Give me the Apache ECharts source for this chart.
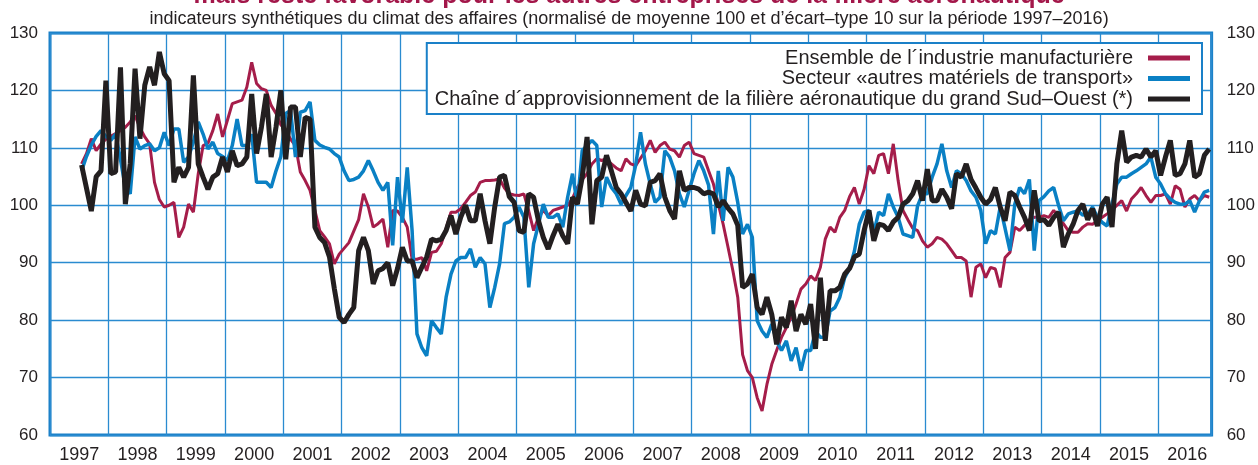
<!DOCTYPE html>
<html lang="fr">
<head>
<meta charset="utf-8">
<title>Climat des affaires</title>
<script src="https://cdn.jsdelivr.net/npm/echarts@6/dist/echarts.min.js"></script>
<style>
  html, body { margin: 0; padding: 0; background: #fff; }
  #chart { width: 1258px; height: 465px; }
</style>
</head>
<body>
<div id="chart"></div>
<script>
// Months are counted from January 1997; the series start in July 1997 and end in November 2016.
const FIRST_MONTH = 6;
const AXIS_MONTHS = 239;

const years = ['1997', '1998', '1999', '2000', '2001', '2002', '2003', '2004', '2005', '2006',
  '2007', '2008', '2009', '2010', '2011', '2012', '2013', '2014', '2015', '2016'];

const yTicks = [60, 70, 80, 90, 100, 110, 120, 130];

const seriesNames = [
  'Ensemble de l´industrie manufacturière',
  'Secteur «autres matériels de transport»',
  'Chaîne d´approvisionnement de la filière aéronautique du grand Sud–Ouest (*)'
];

// Ensemble de l'industrie manufacturière
const manufacturing = [
  107.2, 109, 111.6, 109.5, 110.7, 111.5,
  112, 112.5, 113, 113.6, 114.5, 115.6, 113.5, 111.9, 110.7, 104, 101, 99.7,
  100, 100.5, 94.4, 96.2, 100.2, 98.8, 105.5, 110.4, 110.8, 113, 115.9, 111.9,
  114.8, 117.7, 118, 118.3, 120.6, 124.9, 121.2, 120.3, 120, 117.4, 116, 114,
  113, 111.5, 110.4, 105.8, 104.3, 102.6, 99.1, 95.6, 94.5, 93.3, 89.8, 91.5,
  92.5, 93.5, 95.5, 97.5, 102, 99.7, 96.2, 96.8, 97.6, 92.7, 99.1, 99,
  97.9, 96.2, 90.6, 90.6, 90.9, 88.6, 91.8, 92, 93.3, 96, 98.8, 98.8,
  99.4, 100.5, 101.7, 102.3, 104, 104.3, 104.3, 104.4, 104.6, 103, 102, 101.8,
  101.7, 102, 99, 95.6, 97.9, 99.1, 98.2, 99.1, 99.4, 99.7, 100, 101.2,
  103.1, 104.5, 105.5, 107.2, 108.1, 107.8, 108.1, 107.2, 106.5, 106, 108.1, 107.2,
  106.9, 108.2, 109.5, 111.3, 109.2, 110.4, 111, 109.8, 109.5, 108.4, 110.4, 111,
  109, 108.7, 108.4, 106, 103.7, 100.2, 96.7, 92.7, 88.6, 84, 74, 71.2,
  70, 66.5, 64.2, 68.8, 72.3, 74.7, 77, 78.7, 80.5, 82.8, 85.4, 86.3,
  87.7, 86.9, 89.2, 94.1, 96.2, 95.3, 97.9, 99.1, 101.5, 103.1, 100.2, 102.8,
  106.9, 105.5, 108.7, 109, 105.5, 110.7, 104.3, 99.1, 97.5, 96, 95.6, 93.8,
  92.7, 93.3, 94.4, 94.1, 93.3, 92.1, 90.9, 90.9, 90.3, 84, 89.2, 89.8,
  87.4, 89.2, 88.9, 85.7, 90.9, 91.8, 96.2, 95.6, 96.5, 97.5, 97.9, 97.9,
  98.2, 97.9, 99.1, 98, 96.8, 95.6, 95.3, 95.3, 96.2, 96.8, 96.7, 97.3,
  97.9, 98.5, 99.1, 100, 100.8, 99, 101.1, 102, 103.1, 101.7, 100.5, 101.7,
  101.7, 102, 100.2, 103.4, 102.8, 99.7, 101.1, 101.7, 100.8, 101.7, 101.4
];

// Secteur « autres matériels de transport »
const transport = [
  106, 108.5, 110.5, 112, 113, 112,
  111.3, 112.4, 108, 103.1, 102, 111.9, 109.8, 110.4, 110.7, 109.5, 110, 112.7,
  110.4, 113.3, 113.3, 107.5, 108.4, 111, 114.5, 112.4, 109.8, 111, 109, 108.5,
  107.8, 110.4, 115, 110.4, 110.4, 112.4, 104, 104, 104, 103.1, 106, 108.5,
  116, 116.5, 108.4, 116.2, 116.5, 118, 111.3, 110.5, 110.1, 109.8, 109, 108.4,
  106, 104.3, 104.5, 104.9, 106, 107.8, 106, 104, 102.6, 104, 93, 104.9,
  97, 106.6, 95.6, 77.6, 75.2, 73.8, 79.9, 78.7, 77.6, 84, 88, 90.3,
  90.9, 90.9, 92.4, 89.2, 90.9, 89.8, 82.2, 85.7, 89.8, 96.8, 97.1, 97.9,
  99.7, 97.9, 85.7, 93.3, 96.7, 100.2, 97.9, 97.9, 98.5, 96.2, 101.4, 105.5,
  100.2, 109.5, 110.4, 111.3, 110.4, 99.7, 104.9, 103.1, 102, 100.2, 101.7, 103.1,
  107, 112.7, 107.2, 103.7, 100.5, 101.4, 109.5, 108.4, 106, 102, 99.7, 102.6,
  105.5, 107.8, 106, 103.5, 95, 106, 97.3, 106.6, 104.9, 100.5, 95, 96.7,
  94.4, 79.9, 78.1, 77, 79.3, 76.4, 74.7, 76.4, 72.9, 75.2, 71.2, 74.7,
  74.7, 78.1, 77, 77, 81.6, 82.2, 84, 87.4, 89, 92, 96.7, 98.8,
  99.1, 95.3, 98.8, 98.2, 102, 99.7, 97.9, 95, 94.7, 94.4, 99.9, 102,
  102, 104.9, 107.2, 110.7, 106, 103.1, 106, 105.5, 104.3, 102.5, 101.4, 99.1,
  93.3, 95.6, 95, 99.7, 96, 92.1, 100.2, 103.1, 102, 104.5, 92.1, 100.8,
  101.5, 102.5, 103.1, 100, 97.3, 98.5, 98.8, 99, 98.3, 98.5, 99.7, 97.9,
  97, 96.4, 100.2, 103.7, 104.9, 104.9, 105.5, 106, 106.6, 107.2, 108.4, 104.9,
  103.7, 102, 101.1, 100.5, 100.2, 100.2, 100.8, 98.8, 100.8, 102.3, 102.6
];

// Chaîne d'approvisionnement aéronautique du grand Sud-Ouest
const aeroSupply = [
  107, 103, 99, 105, 106, 121.7,
  105.5, 105.8, 124, 100.2, 107.2, 123.8, 111.6, 120.9, 124.1, 120.9, 126.7, 122.9,
  121.7, 104, 106.6, 104.9, 106.6, 122.6, 107.2, 104.9, 102.8, 104.9, 105.5, 108.4,
  105.8, 109.5, 106.9, 107.2, 108.4, 119.4, 109, 113.6, 119.4, 108.4, 113.6, 120,
  108, 117.1, 117.1, 108.4, 115.3, 115, 96.2, 94.4, 93.5, 91, 85.5, 80.5,
  79.6, 81, 82.2, 92.1, 94.4, 92.1, 86.3, 88.6, 89, 90, 86, 89,
  92.7, 90.3, 90.3, 87.4, 89.2, 91, 94.1, 93.8, 94.1, 95.6, 98.2, 95,
  97.9, 100, 97.3, 97.3, 102, 97.3, 93.3, 99.7, 104.9, 105.2, 101.5, 100.5,
  95.6, 95.3, 102, 101.4, 97.3, 94.4, 92.4, 94.7, 96.7, 94.7, 93.3, 101.4,
  100.2, 104.9, 111.9, 96.7, 104.3, 104.9, 108.7, 106, 103.1, 102, 100.5, 99,
  102.6, 100.2, 99.9, 104, 104.3, 105.5, 101.4, 99.1, 97.6, 106, 102.6, 103.1,
  103.1, 102.8, 102, 102.3, 102, 99.7, 100.8, 99.5, 98.5, 96.5, 85.7, 86.3,
  88, 82.2, 81, 84, 81, 75.8, 80.5, 78.7, 83.4, 78.1, 81, 79.3,
  82.8, 75, 87.4, 76.4, 85.1, 85.1, 85.7, 88, 89, 91, 91.5, 95.6,
  99.1, 93.8, 96.7, 96.5, 95.6, 97.1, 97.9, 100.2, 100.8, 102, 104.3, 100.8,
  106.3, 100.8, 100.8, 102.8, 101.4, 99.4, 105.5, 104.9, 107.2, 104.5, 103, 101.4,
  100.2, 101, 103.1, 99.7, 97.3, 102.3, 101.7, 99.7, 97.9, 95.6, 102.6, 97.3,
  97.5, 96.5, 97.9, 98.8, 92.7, 95, 96.7, 99.1, 100.2, 97.5, 99.4, 96.4,
  100.2, 101.4, 96.2, 107.2, 113, 107.5, 108.4, 108.7, 108.4, 109.8, 108.4, 109.5,
  105.2, 108.4, 111.3, 105.2, 105.5, 107.2, 111.3, 104.9, 105.5, 108.7, 109.8
];

const FONT = '"Liberation Sans", Arial, Helvetica, sans-serif';
const TEXT = '#231f20';
const GRID_BLUE = '#2a8bd0';

// Each monthly value sits in the middle of its month.
function toPoints(values) {
  return values.map((v, i) => [FIRST_MONTH + i + 0.5, v]);
}

const chart = echarts.init(document.getElementById('chart'), null, { renderer: 'canvas' });

chart.setOption({
  animation: false,
  backgroundColor: '#ffffff',
  textStyle: { fontFamily: FONT },
  title: [
    {
      text: 'mais reste favorable pour les autres entreprises de la filière aéronautique',
      left: 'center',
      top: -16,
      padding: 0,
      textStyle: { color: '#a3174a', fontSize: 25, fontWeight: 'bold', fontFamily: FONT }
    },
    {
      text: 'indicateurs synthétiques du climat des affaires (normalisé de moyenne 100 et d’écart–type 10 sur la période 1997–2016)',
      left: 'center',
      top: 10,
      padding: 0,
      textStyle: { color: TEXT, fontSize: 18, fontWeight: 'normal', fontFamily: FONT }
    }
  ],
  legend: {
    data: seriesNames,
    orient: 'vertical',
    align: 'right',
    right: 56,
    top: 43,
    icon: 'rect',
    itemWidth: 42,
    itemHeight: 5,
    itemGap: 0.5,
    padding: [5, 12, 5, 8],
    backgroundColor: '#ffffff',
    borderColor: '#1a80c8',
    borderWidth: 2,
    textStyle: { color: TEXT, fontSize: 20, lineHeight: 20, fontFamily: FONT, padding: [0, 10, 0, 0] }
  },
  grid: {
    left: 50, right: 45, top: 33, bottom: 30,
    show: true,
    borderColor: '#1a80c8',
    borderWidth: 3
  },
  xAxis: [
    {
      // year boundaries
      type: 'value', min: 0, max: AXIS_MONTHS, interval: 12,
      axisLine: { show: false }, axisTick: { show: false }, axisLabel: { show: false },
      splitLine: { show: true, lineStyle: { color: GRID_BLUE, width: 1.3 } }
    },
    {
      // year labels in the middle of each year
      type: 'value', min: 0, max: AXIS_MONTHS, interval: 6, position: 'bottom',
      axisLine: { show: false }, axisTick: { show: false }, splitLine: { show: false },
      axisLabel: {
        color: TEXT, fontSize: 18, fontFamily: FONT, margin: 11,
        formatter: (v) => {
          const m = Math.round(v);
          return m % 12 === 6 ? years[(m - 6) / 12] : '';
        }
      }
    }
  ],
  yAxis: [
    {
      type: 'value', min: yTicks[0], max: yTicks[yTicks.length - 1], interval: 10, position: 'left',
      axisLine: { show: false }, axisTick: { show: false },
      axisLabel: { color: TEXT, fontSize: 17, fontFamily: FONT, margin: 12 },
      splitLine: { show: true, lineStyle: { color: GRID_BLUE, width: 1.3 } }
    },
    {
      type: 'value', min: yTicks[0], max: yTicks[yTicks.length - 1], interval: 10, position: 'right',
      axisLine: { show: false }, axisTick: { show: false },
      axisLabel: { color: TEXT, fontSize: 17, fontFamily: FONT, margin: 15 },
      splitLine: { show: false }
    }
  ],
  series: [
    {
      name: seriesNames[0], type: 'line', data: toPoints(manufacturing),
      showSymbol: false, symbol: 'none', color: '#a51d4a',
      lineStyle: { color: '#a51d4a', width: 3 }, z: 3
    },
    {
      name: seriesNames[1], type: 'line', data: toPoints(transport),
      showSymbol: false, symbol: 'none', color: '#0a80c4',
      lineStyle: { color: '#0a80c4', width: 3.5 }, z: 4
    },
    {
      name: seriesNames[2], type: 'line', data: toPoints(aeroSupply),
      showSymbol: false, symbol: 'none', color: '#231f20',
      lineStyle: { color: '#231f20', width: 5 }, z: 5
    }
  ]
});
</script>
</body>
</html>
